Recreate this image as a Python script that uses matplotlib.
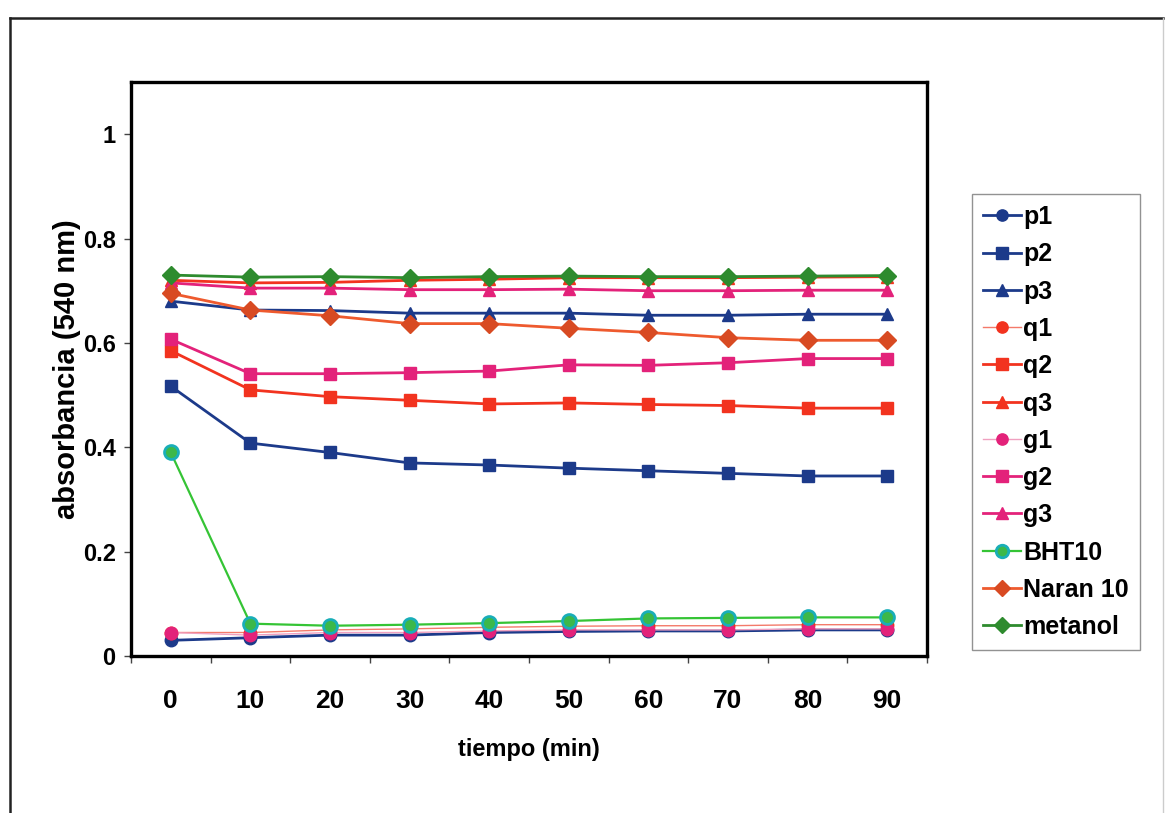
import matplotlib
matplotlib.use("Agg")
import matplotlib.pyplot as plt
from matplotlib.lines import Line2D

times = [0, 10, 20, 30, 40, 50, 60, 70, 80, 90]
p1 = [0.030, 0.035, 0.040, 0.040, 0.045, 0.047, 0.048, 0.048, 0.050, 0.050]
p2 = [0.517, 0.408, 0.390, 0.370, 0.366, 0.360, 0.355, 0.350, 0.345, 0.345]
p3 = [0.680, 0.663, 0.662, 0.657, 0.657, 0.657, 0.653, 0.653, 0.655, 0.655]
q1 = [0.045, 0.045, 0.050, 0.052, 0.055, 0.057, 0.058, 0.058, 0.060, 0.060]
q2 = [0.585, 0.510, 0.497, 0.490, 0.483, 0.485, 0.482, 0.480, 0.475, 0.475]
q3 = [0.720, 0.715, 0.716, 0.720, 0.722, 0.725, 0.725, 0.725, 0.726, 0.727]
g1 = [0.045, 0.040, 0.045, 0.045, 0.048, 0.050, 0.050, 0.050, 0.052, 0.052]
g2 = [0.607, 0.541, 0.541, 0.543, 0.546, 0.558, 0.557, 0.562, 0.570, 0.570]
g3 = [0.715, 0.705, 0.705, 0.702, 0.702, 0.703, 0.700, 0.700, 0.701, 0.701]
bht10 = [0.390, 0.062, 0.058, 0.060, 0.063, 0.067, 0.072, 0.073, 0.074, 0.074]
naran10 = [0.695, 0.663, 0.652, 0.637, 0.637, 0.628, 0.620, 0.610, 0.605, 0.605]
metanol = [0.730, 0.726, 0.727, 0.725, 0.727, 0.728, 0.727, 0.727, 0.728, 0.729]

labels = ["p1", "p2", "p3", "q1", "q2", "q3", "g1", "g2", "g3", "BHT10", "Naran 10", "metanol"]
y_ticks = [0, 0.2, 0.4, 0.6, 0.8, 1]
y_tick_labels = ["0", "0.2", "0.4", "0.6", "0.8", "1"]

navy = "#1c3a8a"
red = "#f2331f"
pink = "#e3227a"
styles = [
    dict(color=navy, marker="o", mfc=navy, mec=navy, lw=2.0),
    dict(color=navy, marker="s", mfc=navy, mec=navy, lw=2.0),
    dict(color=navy, marker="^", mfc=navy, mec=navy, lw=2.0),
    dict(color="#f47a6a", marker="o", mfc=red, mec=red, lw=1.0),
    dict(color=red, marker="s", mfc=red, mec=red, lw=2.0),
    dict(color=red, marker="^", mfc=red, mec=red, lw=2.0),
    dict(color="#f0a0c0", marker="o", mfc=pink, mec=pink, lw=1.0),
    dict(color=pink, marker="s", mfc=pink, mec=pink, lw=2.0),
    dict(color=pink, marker="^", mfc=pink, mec=pink, lw=2.0),
    dict(color="#35c435", marker="o", mfc="#3cb84a", mec="#19aeb8", lw=1.6, mew=2.0),
    dict(color="#ee5a2e", marker="D", mfc="#d84a22", mec="#d84a22", lw=2.0),
    dict(color="#2e8b2e", marker="D", mfc="#2e8b2e", mec="#2e8b2e", lw=2.0),
]
series = [p1, p2, p3, q1, q2, q3, g1, g2, g3, bht10, naran10, metanol]

font = "Liberation Sans"

W, H = 1165, 813
fig = plt.figure(figsize=(W / 100, H / 100), dpi=100)
ax = fig.add_axes([131 / W, 1 - 656 / H, 796 / W, 574 / H])

for s, lab, st in zip(series, labels, styles):
    ms = 10 if lab == "BHT10" else 9
    ax.plot(times, s, label=lab, markersize=ms, **st)

ax.set_xlim(-5, 95)
ax.set_ylim(0, 1.1)
ax.set_xticks([t - 5 for t in times] + [95])
ax.set_xticklabels([])
ax.set_xticks(times, minor=True)
ax.set_xticklabels([str(t) for t in times], minor=True)
ax.tick_params(axis="x", which="major", direction="out", length=5, width=1, color="#444444")
ax.tick_params(axis="x", which="minor", length=0, pad=24)
ax.set_yticks(y_ticks)
ax.set_yticklabels(y_tick_labels)
ax.tick_params(axis="y", direction="out", length=5, width=1, color="#444444", pad=6)
for lab in ax.get_xticklabels(minor=True):
    lab.set_fontfamily(font)
    lab.set_fontweight("bold")
    lab.set_fontsize(19)
for lab in ax.get_yticklabels():
    lab.set_fontfamily(font)
    lab.set_fontweight("bold")
    lab.set_fontsize(17)
for sp in ax.spines.values():
    sp.set_linewidth(2.4)
    sp.set_color("black")

ax.set_ylabel("absorbancia (540 nm)", fontsize=21, fontweight="bold", fontfamily=font)
ax.yaxis.set_label_coords(-0.0625, 0.5)
ax.set_xlabel("tiempo (min)", fontsize=17, fontweight="bold", fontfamily=font,
              labelpad=18)

leg = ax.legend(loc="upper left", bbox_to_anchor=(972 / W, 1 - 194 / H),
                bbox_transform=fig.transFigure, frameon=True, fancybox=False,
                prop=dict(family=font, weight="bold", size=18),
                handlelength=1.5, handletextpad=0.1, labelspacing=0.53,
                borderpad=0.45, borderaxespad=0, markerscale=0.9)
leg.get_frame().set_edgecolor("#777777")
leg.get_frame().set_linewidth(1.0)

# outer chart-area border
fig.add_artist(Line2D([10 / W, 10 / W], [0, 1 - 18 / H], transform=fig.transFigure,
                      color="#222222", lw=1.8))
fig.add_artist(Line2D([10 / W, 1163 / W], [1 - 18 / H, 1 - 18 / H], transform=fig.transFigure,
                      color="#222222", lw=1.8))
fig.add_artist(Line2D([1163 / W, 1163 / W], [0, 1 - 18 / H], transform=fig.transFigure,
                      color="#cccccc", lw=1.0))

fig.savefig("out.png", dpi=100)
